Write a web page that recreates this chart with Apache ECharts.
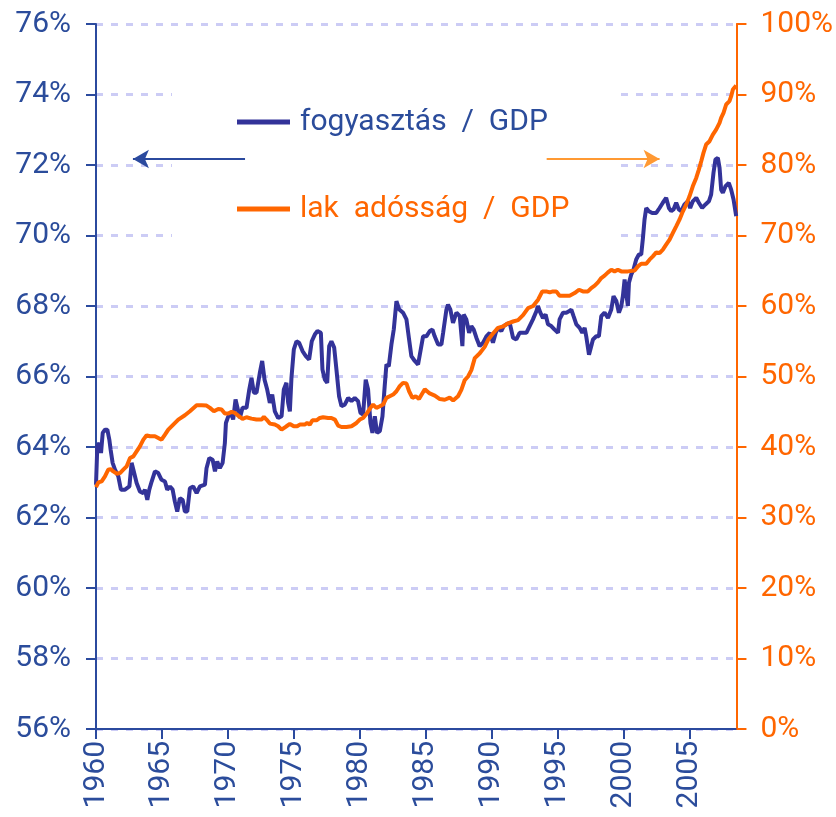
<!DOCTYPE html>
<html>
<head>
<meta charset="utf-8">
<script src="https://cdn.jsdelivr.net/npm/echarts@6/dist/echarts.min.js"></script>
<style>
    html, body { margin: 0; padding: 0; background: #fff; }
    #chart { width: 836px; height: 817px; }
</style>
</head>
<body>
<div id="chart"></div>
<script>
// fogyasztás / GDP (bal tengely, %)
var consYears = [
    1960.00, 1960.10, 1960.25, 1960.38, 1960.51, 1960.68, 1960.86, 1961.01, 1961.11, 1961.26,
    1961.44, 1961.69, 1961.89, 1962.20, 1962.53, 1962.70, 1962.83, 1963.08, 1963.33, 1963.59,
    1963.71, 1963.89, 1964.04, 1964.22, 1964.47, 1964.72, 1964.97, 1965.23, 1965.40, 1965.61,
    1965.81, 1965.98, 1966.16, 1966.36, 1966.57, 1966.74, 1966.92, 1967.12, 1967.37, 1967.63,
    1967.88, 1968.26, 1968.38, 1968.59, 1968.84, 1969.02, 1969.19, 1969.39, 1969.60, 1969.77,
    1969.85, 1970.03, 1970.28, 1970.40, 1970.58, 1970.73, 1970.91, 1971.11, 1971.41, 1971.62,
    1971.79, 1971.97, 1972.17, 1972.42, 1972.60, 1972.78, 1972.98, 1973.18, 1973.36, 1973.56,
    1973.81, 1974.07, 1974.24, 1974.44, 1974.57, 1974.70, 1974.82, 1975.00, 1975.20, 1975.40,
    1975.66, 1975.91, 1976.16, 1976.36, 1976.59, 1976.79, 1977.05, 1977.17, 1977.35, 1977.53,
    1977.68, 1977.85, 1978.06, 1978.23, 1978.43, 1978.61, 1978.86, 1979.12, 1979.37, 1979.62,
    1979.87, 1980.05, 1980.25, 1980.45, 1980.63, 1980.81, 1980.96, 1981.14, 1981.31, 1981.52,
    1981.72, 1981.89, 1982.02, 1982.20, 1982.40, 1982.58, 1982.78, 1982.98, 1983.28, 1983.54,
    1983.74, 1983.91, 1984.17, 1984.42, 1984.55, 1984.80, 1985.05, 1985.31, 1985.51, 1985.68,
    1985.94, 1986.19, 1986.32, 1986.57, 1986.69, 1986.87, 1987.07, 1987.33, 1987.58, 1987.78,
    1987.88, 1988.08, 1988.29, 1988.46, 1988.64, 1988.84, 1989.09, 1989.35, 1989.60, 1989.85,
    1990.10, 1990.31, 1990.48, 1990.73, 1990.91, 1991.11, 1991.37, 1991.62, 1991.87, 1992.12,
    1992.38, 1992.63, 1992.88, 1993.13, 1993.39, 1993.51, 1993.69, 1993.89, 1994.09, 1994.27,
    1994.52, 1994.77, 1995.03, 1995.15, 1995.41, 1995.66, 1995.86, 1996.04, 1996.21, 1996.42,
    1996.67, 1996.87, 1997.05, 1997.17, 1997.38, 1997.55, 1997.68, 1997.93, 1998.13, 1998.31,
    1998.56, 1998.82, 1999.07, 1999.24, 1999.45, 1999.65, 1999.83, 1999.95, 2000.08, 2000.20,
    2000.33, 2000.41, 2000.58, 2000.76, 2000.96, 2001.16, 2001.34, 2001.47, 2001.59, 2001.72,
    2001.92, 2002.17, 2002.48, 2002.73, 2002.98, 2003.23, 2003.44, 2003.61, 2003.79, 2003.99,
    2004.19, 2004.37, 2004.62, 2004.88, 2005.05, 2005.25, 2005.51, 2005.71, 2005.96, 2006.21,
    2006.47, 2006.64, 2006.82, 2006.97, 2007.15, 2007.28, 2007.40, 2007.53, 2007.73, 2007.98,
    2008.16, 2008.34, 2008.54
];
var consValues = [
    62.93, 64.02, 64.11, 63.83, 64.40, 64.49, 64.49, 64.21, 63.92, 63.55,
    63.36, 63.17, 62.79, 62.79, 62.88, 63.55, 63.36, 62.98, 62.74, 62.69,
    62.79, 62.50, 62.79, 63.02, 63.31, 63.26, 63.07, 63.02, 62.79, 62.88,
    62.79, 62.45, 62.17, 62.55, 62.50, 62.17, 62.17, 62.83, 62.88, 62.69,
    62.88, 62.93, 63.40, 63.69, 63.64, 63.31, 63.59, 63.40, 63.55, 64.11,
    64.68, 64.87, 64.92, 64.78, 65.35, 65.39, 64.82, 65.11, 65.11, 65.63,
    65.96, 65.54, 65.54, 66.10, 66.44, 65.91, 65.63, 65.25, 65.49, 65.01,
    64.82, 64.87, 65.63, 65.82, 65.25, 65.01, 65.96, 66.77, 67.00, 66.96,
    66.72, 66.58, 66.48, 67.00, 67.19, 67.29, 67.24, 66.20, 65.91, 65.82,
    66.86, 67.00, 66.82, 66.20, 65.44, 65.16, 65.20, 65.39, 65.30, 65.39,
    65.30, 64.97, 64.92, 65.91, 65.63, 64.68, 64.40, 64.87, 64.40, 64.45,
    64.87, 65.73, 66.34, 66.29, 66.91, 67.34, 68.14, 67.91, 67.81, 67.62,
    67.05, 66.58, 66.44, 66.34, 66.34, 67.14, 67.14, 67.29, 67.33, 67.14,
    66.91, 66.91, 67.24, 67.90, 68.04, 67.90, 67.52, 67.81, 67.71, 66.86,
    67.76, 67.62, 67.24, 67.43, 67.33, 67.10, 66.86, 66.96, 67.14, 67.24,
    66.96, 67.24, 67.38, 67.29, 67.43, 67.48, 67.52, 67.10, 67.05, 67.24,
    67.24, 67.24, 67.43, 67.62, 67.85, 68.00, 67.81, 67.66, 67.76, 67.48,
    67.43, 67.33, 67.24, 67.62, 67.81, 67.81, 67.85, 67.90, 67.71, 67.48,
    67.38, 67.24, 67.38, 67.14, 66.62, 66.86, 67.05, 67.14, 67.14, 67.71,
    67.81, 67.66, 67.90, 68.28, 68.14, 67.81, 68.00, 68.28, 68.75, 68.37,
    68.00, 68.66, 68.89, 69.04, 69.32, 69.46, 69.46, 69.93, 70.45, 70.78,
    70.69, 70.64, 70.64, 70.78, 70.93, 71.07, 70.78, 70.69, 70.74, 70.93,
    70.74, 70.69, 70.88, 70.97, 70.78, 70.97, 71.07, 70.93, 70.78, 70.88,
    70.97, 71.16, 71.78, 72.16, 72.20, 71.92, 71.30, 71.21, 71.40, 71.49,
    71.30, 71.02, 70.55
];

// lak adósság / GDP (jobb tengely, %)
var debtYears = [
    1960.00, 1960.18, 1960.43, 1960.68, 1960.93, 1961.11, 1961.31, 1961.57, 1961.82, 1962.07,
    1962.32, 1962.58, 1962.83, 1963.08, 1963.33, 1963.59, 1963.84, 1964.09, 1964.47, 1964.72,
    1964.97, 1965.23, 1965.48, 1965.86, 1966.24, 1966.74, 1967.12, 1967.63, 1968.01, 1968.38,
    1968.64, 1968.94, 1969.27, 1969.52, 1969.77, 1970.03, 1970.28, 1970.53, 1970.78, 1971.11,
    1971.41, 1971.79, 1972.17, 1972.55, 1972.73, 1972.93, 1973.18, 1973.56, 1973.81, 1974.07,
    1974.44, 1974.70, 1975.00, 1975.25, 1975.45, 1975.83, 1976.01, 1976.21, 1976.41, 1976.72,
    1976.97, 1977.22, 1977.60, 1977.85, 1978.11, 1978.36, 1978.61, 1978.99, 1979.37, 1979.75,
    1980.00, 1980.25, 1980.56, 1980.81, 1981.01, 1981.26, 1981.52, 1981.77, 1982.02, 1982.27,
    1982.53, 1982.78, 1983.03, 1983.28, 1983.54, 1983.74, 1983.99, 1984.24, 1984.49, 1984.93,
    1985.30, 1985.69, 1986.07, 1986.44, 1986.82, 1987.08, 1987.45, 1987.70, 1987.96, 1988.21,
    1988.46, 1988.72, 1989.10, 1989.47, 1989.73, 1990.10, 1990.48, 1990.86, 1991.24, 1991.62,
    1992.00, 1992.38, 1992.76, 1993.14, 1993.52, 1993.84, 1994.14, 1994.40, 1994.65, 1994.90,
    1995.15, 1995.53, 1995.91, 1996.29, 1996.62, 1996.92, 1997.30, 1997.55, 1997.81, 1998.06,
    1998.31, 1998.56, 1998.82, 1999.07, 1999.32, 1999.57, 1999.83, 2000.33, 2000.84, 2001.09,
    2001.34, 2001.72, 2001.97, 2002.22, 2002.48, 2002.73, 2002.98, 2003.23, 2003.49, 2003.74,
    2003.99, 2004.24, 2004.50, 2004.75, 2005.00, 2005.25, 2005.51, 2005.71, 2005.89, 2006.06,
    2006.26, 2006.52, 2006.77, 2007.02, 2007.28, 2007.40, 2007.58, 2007.78, 2008.03, 2008.16,
    2008.29, 2008.41, 2008.54
];
var debtValues = [
    34.31, 34.98, 35.12, 35.83, 36.78, 36.87, 36.54, 36.21, 36.30, 36.78,
    37.25, 38.44, 38.67, 39.38, 40.09, 41.04, 41.66, 41.52, 41.52, 41.28,
    41.04, 41.75, 42.46, 43.18, 43.89, 44.50, 45.07, 45.92, 45.92, 45.88,
    45.55, 45.07, 45.40, 45.31, 44.74, 44.74, 44.98, 44.83, 44.45, 43.98,
    44.22, 44.03, 43.89, 43.89, 44.27, 43.89, 43.32, 43.18, 42.94, 42.46,
    42.94, 43.27, 42.94, 42.94, 43.18, 43.18, 43.41, 43.18, 43.79, 43.79,
    44.12, 44.22, 44.12, 44.12, 43.89, 43.03, 42.84, 42.84, 42.94, 43.41,
    43.89, 44.12, 44.83, 45.55, 46.02, 45.55, 45.78, 46.02, 46.97, 47.20,
    47.44, 47.91, 48.63, 49.10, 49.00, 47.91, 46.97, 47.20, 46.82, 48.20,
    47.60, 47.30, 46.80, 46.70, 47.00, 46.60, 47.20, 48.10, 49.50, 50.00,
    50.90, 52.60, 53.30, 54.20, 55.20, 56.10, 56.90, 57.10, 57.55, 57.80,
    58.00, 58.70, 59.70, 60.00, 60.90, 62.07, 62.07, 61.93, 62.07, 62.07,
    61.46, 61.46, 61.46, 61.83, 62.31, 62.07, 62.07, 62.54, 62.88, 63.35,
    63.96, 64.30, 64.77, 65.15, 64.91, 65.15, 64.91, 64.91, 65.05, 65.62,
    66.00, 66.00, 66.57, 67.04, 67.61, 67.51, 67.99, 68.70, 69.41, 70.36,
    71.30, 72.25, 73.43, 74.38, 75.56, 76.98, 78.17, 79.35, 80.53, 81.72,
    82.90, 83.37, 84.32, 85.03, 85.98, 86.69, 87.40, 88.58, 89.05, 89.76,
    90.71, 90.95, 91.28
];

var blue = '#333399';
var blueText = '#2B4C9B';
var orange = '#FF6600';
var arrowOrange = '#FF9933';
var fontName = 'Roboto';

function pairs(xs, ys) {
    var out = [];
    for (var i = 0; i < xs.length; i++) {
        out.push([xs[i], ys[i]]);
    }
    return out;
}

var chart = echarts.init(document.getElementById('chart'));
var option = {
    animation : false,
    grid : {
        left : 96,
        right : 98,
        top : 24,
        bottom : 88
    },
    legend : {
        orient : 'vertical',
        left : 172,
        top : 55,
        padding : [52, 47, 30, 65],
        itemGap : 57,
        itemWidth : 53,
        itemHeight : 5,
        icon : 'rect',
        backgroundColor : '#fff',
        selectedMode : false,
        textStyle : {
            fontFamily : fontName,
            fontSize : 30,
            padding : [0, 0, 0, 5]
        },
        formatter : function (name) {
            return name.replace(' / ', '  /  ').replace('lak adósság', 'lak  adósság');
        },
        data : [
            { name : 'fogyasztás / GDP', textStyle : { color : blueText } },
            { name : 'lak adósság / GDP', textStyle : { color : orange } }
        ]
    },
    xAxis : {
        type : 'value',
        min : 1960,
        max : 2008.56,
        interval : 5,
        axisLine : { lineStyle : { color : '#2B4A9E', width : 2 } },
        axisTick : { length : 10, lineStyle : { color : '#2B4A9E', width : 2 } },
        splitLine : { show : false },
        axisLabel : {
            rotate : 90,
            margin : 12,
            color : blueText,
            fontFamily : fontName,
            fontSize : 30,
            showMaxLabel : false,
            formatter : function (v) {
                return v % 5 === 0 ? String(v) : '';
            }
        }
    },
    yAxis : [
        {
            type : 'value',
            min : 56,
            max : 76,
            interval : 2,
            position : 'left',
            axisLine : { show : true, lineStyle : { color : '#2B4A9E', width : 2 } },
            axisTick : { show : true, length : 10, lineStyle : { color : '#2B4A9E', width : 2 } },
            axisLabel : {
                margin : 25,
                color : blueText,
                fontFamily : fontName,
                fontSize : 30,
                formatter : '{value}%'
            },
            splitLine : {
                show : true,
                lineStyle : { color : '#CCCCF5', width : 3, type : [7, 8] }
            }
        },
        {
            type : 'value',
            min : 0,
            max : 100,
            interval : 10,
            position : 'right',
            axisLine : { show : true, lineStyle : { color : orange, width : 2 } },
            axisTick : { show : true, length : 10, lineStyle : { color : orange, width : 2 } },
            axisLabel : {
                margin : 24,
                color : orange,
                fontFamily : fontName,
                fontSize : 30,
                formatter : '{value}%'
            },
            splitLine : { show : false }
        }
    ],
    series : [
        {
            name : 'fogyasztás / GDP',
            type : 'line',
            yAxisIndex : 0,
            showSymbol : false,
            color : blue,
            lineStyle : { color : blue, width : 4 },
            data : pairs(consYears, consValues),
            markLine : {
                silent : true,
                symbol : ['none', 'arrow'],
                symbolSize : [14, 16],
                label : { show : false },
                lineStyle : { color : '#2B4A9E', width : 2, type : 'solid' },
                data : [[{ coord : [1971.3, 72.17] }, { coord : [1962.8, 72.17] }]]
            }
        },
        {
            name : 'lak adósság / GDP',
            type : 'line',
            yAxisIndex : 1,
            showSymbol : false,
            color : orange,
            lineStyle : { color : orange, width : 4 },
            data : pairs(debtYears, debtValues),
            markLine : {
                silent : true,
                symbol : ['none', 'arrow'],
                symbolSize : [14, 16],
                label : { show : false },
                lineStyle : { color : arrowOrange, width : 2, type : 'solid' },
                data : [[{ coord : [1994.17, 80.85] }, { coord : [2002.73, 80.85] }]]
            }
        }
    ]
};
chart.setOption(option);
</script>
</body>
</html>
